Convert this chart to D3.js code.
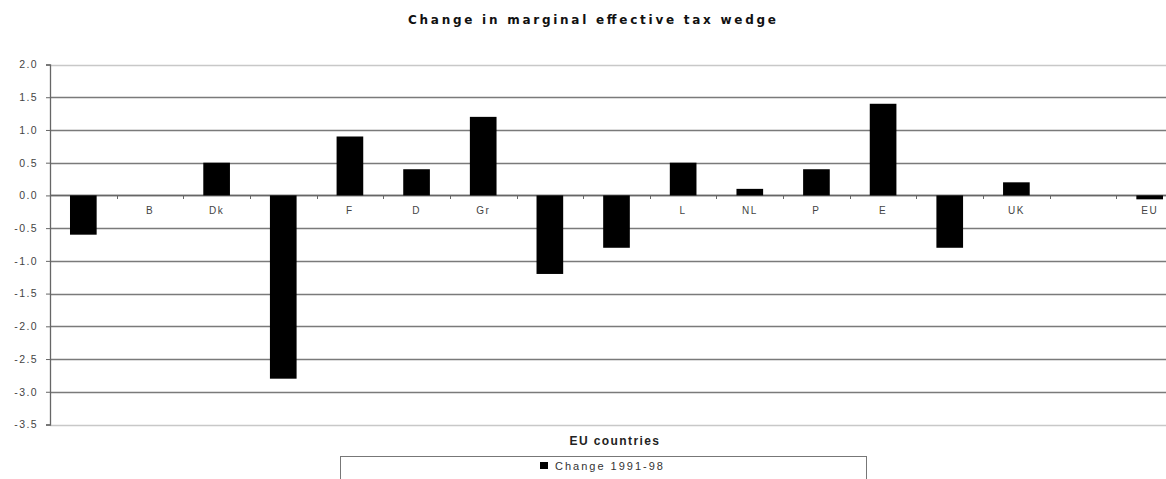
<!DOCTYPE html>
<html>
<head>
<meta charset="utf-8">
<script src="https://cdn.jsdelivr.net/npm/d3@7"></script>
<style>
  html, body { margin: 0; padding: 0; background: #fff; }
  svg { display: block; }
</style>
</head>
<body>
<svg id="chart" width="1166" height="479"></svg>
<script>
const categories = ["A", "B", "Dk", "Fin", "F", "D", "Gr", "Irl", "I", "L", "NL", "P", "E", "S", "UK", "", "EU"];
const values = [-0.6, 0, 0.5, -2.8, 0.9, 0.4, 1.2, -1.2, -0.8, 0.5, 0.1, 0.4, 1.4, -0.8, 0.2, 0, -0.06];
const yTicks = [2.0, 1.5, 1.0, 0.5, 0.0, -0.5, -1.0, -1.5, -2.0, -2.5, -3.0, -3.5];
const title = "Change in marginal effective tax wedge";
const xTitle = "EU countries";
const seriesName = "Change 1991-98";

const svg = d3.select("#chart");
const sans = "\"Liberation Sans\", Arial, sans-serif";
const plotLeft = 50, plotRight = 1183, plotTop = 64.5, plotBottom = 424.5;

const x = d3.scaleBand().domain(categories.map((c, i) => i)).range([plotLeft, plotRight])
  .paddingInner(0.6).paddingOuter(0.3);
const y = d3.scaleLinear().domain([-3.5, 2.0]).range([plotBottom, plotTop]);

// Title
svg.append("text").attr("x", 592).attr("y", 24).attr("text-anchor", "middle")
  .style("font-family", "\"DejaVu Sans\", sans-serif").style("font-size", "12px").style("font-weight", "bold")
  .attr("fill", "#111")
  .attr("textLength", 368).attr("lengthAdjust", "spacing").text(title);

// gridlines
svg.append("g").selectAll("line").data(yTicks).join("line")
  .attr("x1", plotLeft).attr("x2", 1166)
  .attr("y1", d => Math.round(y(d)) + 0.5).attr("y2", d => Math.round(y(d)) + 0.5)
  .attr("stroke", d => (d === 2.0 || d === -3.5) ? "#c8c8c8" : "#7a7a7a")
  .attr("stroke-width", d => (d === 2.0 || d === -3.5) ? 1.5 : 1.3);

// y axis
const yAxis = d3.axisLeft(y).tickValues(yTicks).tickFormat(d => d3.format(".1f")(d).replace("\u2212", "-")).tickSize(4).tickPadding(8);
const gy = svg.append("g").attr("transform", `translate(${plotLeft},0)`).call(yAxis);
gy.select(".domain").attr("stroke", "#666").attr("stroke-width", 1.3);
gy.selectAll(".tick line").attr("stroke", "#666");
gy.selectAll(".tick text").attr("fill", "#444")
  .style("font-family", sans).style("font-size", "10.5px").style("letter-spacing", "1.4px");

// category labels (drawn before bars, so negative bars cover them)
const y0 = y(0);
const xAxis = d3.axisBottom(x).tickSize(0).tickPadding(11).tickFormat(i => categories[i]);
const gx = svg.append("g").attr("transform", `translate(0,${y0})`).call(xAxis);
gx.select(".domain").remove();
gx.selectAll(".tick text").attr("fill", "#444")
  .style("font-family", sans).style("font-size", "10px").style("letter-spacing", "1.5px");

// category boundary ticks
const step = x.step();
const bounds = d3.range(categories.length + 1).map(k => plotLeft + k * step);
svg.append("g").selectAll("line").data(bounds).join("line")
  .attr("x1", d => Math.round(d) + 0.5).attr("x2", d => Math.round(d) + 0.5)
  .attr("y1", Math.round(y0)).attr("y2", Math.round(y0) + 4)
  .attr("stroke", "#666").attr("stroke-width", 1);

// zero line
svg.append("line").attr("x1", plotLeft).attr("x2", 1166)
  .attr("y1", Math.round(y0) + 0.5).attr("y2", Math.round(y0) + 0.5)
  .attr("stroke", "#666").attr("stroke-width", 1.3);

// bars
svg.append("g").selectAll("rect").data(values).join("rect")
  .attr("x", (d, i) => x(i)).attr("width", x.bandwidth())
  .attr("y", d => y(Math.max(0, d)))
  .attr("height", d => Math.abs(y(d) - y(0)))
  .attr("fill", "#000");

// axis title
svg.append("text").attr("x", 615).attr("y", 445).attr("text-anchor", "middle")
  .style("font-family", sans).style("font-size", "12px").style("font-weight", "bold").style("letter-spacing", "1.4px")
  .attr("fill", "#222").text(xTitle);

// legend
svg.append("rect").attr("x", 340.5).attr("y", 456.5).attr("width", 526).attr("height", 40)
  .attr("fill", "#fff").attr("stroke", "#777").attr("stroke-width", 1);
svg.append("rect").attr("x", 540).attr("y", 462).attr("width", 8).attr("height", 7).attr("fill", "#000");
svg.append("text").attr("x", 555).attr("y", 470)
  .style("font-family", sans).style("font-size", "11px").style("letter-spacing", "2px")
  .attr("fill", "#333").text(seriesName);
</script>
</body>
</html>
